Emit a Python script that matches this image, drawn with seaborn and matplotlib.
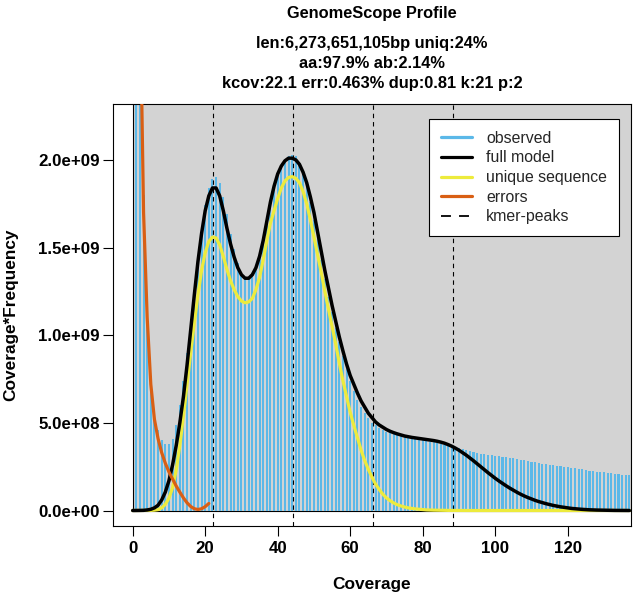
import numpy as np
import pandas as pd
import matplotlib
matplotlib.use("Agg")
import matplotlib.pyplot as plt
from matplotlib.patches import Rectangle
from matplotlib.lines import Line2D
import seaborn as sns

# ---------------- data (values in units of 1e8) ----------------
UNIT = 1e8
coverage = list(range(1, 138))
observed = [150, 40, 18, 11.5, 7.5, 5.6, 4.6, 4.0, 3.8, 3.8,
            4.1, 4.9, 6.0, 7.4, 9.0, 10.8, 12.6, 14.4, 16.0, 17.4,
            18.4, 18.9, 19.0, 18.7, 17.9, 16.9, 15.8, 14.9, 14.1, 13.6,
            13.3, 13.3, 13.5, 13.9, 14.5, 15.4, 16.5, 17.6, 18.5, 19.2,
            19.7, 20.0, 20.2, 20.3, 20.2, 19.8, 19.2, 18.5, 17.6, 16.6,
            15.5, 14.3, 13.2, 12.2, 11.3, 10.4, 9.6, 8.8, 8.1, 7.4,
            6.8, 6.3, 5.9, 5.55, 5.25, 5.0, 4.85, 4.7, 4.6, 4.5,
            4.42, 4.35, 4.3, 4.25, 4.2, 4.15, 4.1, 4.07, 4.03, 4.0,
            3.96, 3.92, 3.88, 3.84, 3.8, 3.76, 3.72, 3.68, 3.63, 3.57,
            3.5, 3.43, 3.37, 3.32, 3.28, 3.24, 3.21, 3.18, 3.15, 3.12,
            3.09, 3.06, 3.03, 3.0, 2.97, 2.94, 2.9, 2.87, 2.83, 2.79,
            2.75, 2.72, 2.68, 2.65, 2.62, 2.59, 2.55, 2.52, 2.49, 2.46,
            2.43, 2.4, 2.37, 2.34, 2.31, 2.28, 2.25, 2.22, 2.2, 2.17,
            2.14, 2.12, 2.09, 2.07, 2.05, 2.03, 2.01]

model_coverage = list(range(0, 138))
full_model = [0, 0, 0.005, 0.01, 0.03, 0.07, 0.15, 0.3, 0.6, 1.05,
              1.7, 2.6, 3.7, 5.0, 6.5, 8.3, 10.3, 12.3, 14.2, 15.8,
              17.1, 17.95, 18.4, 18.4, 17.95, 17.1, 16.1, 15.2, 14.45, 13.85,
              13.45, 13.25, 13.25, 13.45, 13.85, 14.5, 15.4, 16.5, 17.6, 18.5,
              19.2, 19.65, 19.95, 20.1, 20.1, 20.0, 19.75, 19.3, 18.7, 17.9,
              17.0, 15.9, 14.8, 13.7, 12.7, 11.7, 10.8, 9.9, 9.1, 8.35,
              7.7, 7.2, 6.7, 6.25, 5.9, 5.55, 5.3, 5.05, 4.88, 4.75,
              4.62, 4.52, 4.44, 4.37, 4.31, 4.25, 4.21, 4.17, 4.14, 4.11,
              4.08, 4.05, 4.02, 3.99, 3.95, 3.9, 3.84, 3.76, 3.67, 3.56,
              3.44, 3.3, 3.16, 3.0, 2.84, 2.67, 2.5, 2.33, 2.16, 2.0,
              1.84, 1.69, 1.55, 1.41, 1.28, 1.16, 1.04, 0.93, 0.83, 0.74,
              0.66, 0.58, 0.51, 0.45, 0.39, 0.34, 0.29, 0.25, 0.21, 0.18,
              0.15, 0.12, 0.1, 0.08, 0.065, 0.05, 0.04, 0.03, 0.025, 0.02,
              0.015, 0.01, 0.008, 0.006, 0.004, 0.003, 0.002, 0.001]
unique_sequence = [0, 0, 0, 0, 0, 0.005, 0.02, 0.05, 0.15, 0.35,
                   0.7, 1.3, 2.3, 3.7, 5.4, 7.2, 9.0, 10.7, 12.3, 13.7,
                   14.7, 15.35, 15.6, 15.55, 15.15, 14.5, 13.75, 13.1, 12.6, 12.2,
                   11.95, 11.85, 11.9, 12.1, 12.6, 13.3, 14.3, 15.4, 16.4, 17.1,
                   17.8, 18.4, 18.8, 19.0, 19.05, 18.95, 18.7, 18.2, 17.5, 16.6,
                   15.6, 14.6, 13.6, 12.5, 11.5, 10.5, 9.5, 8.4, 7.4, 6.5,
                   5.6, 4.85, 4.15, 3.45, 2.85, 2.35, 1.9, 1.5, 1.2, 0.93,
                   0.72, 0.56, 0.43, 0.33, 0.26, 0.2, 0.15, 0.12, 0.09, 0.07,
                   0.05, 0.035, 0.025, 0.02, 0.015, 0.01, 0.008, 0.006, 0.004, 0.003,
                   0.002, 0.001, 0, 0, 0, 0, 0, 0, 0, 0,
                   0, 0, 0, 0, 0, 0, 0, 0, 0, 0,
                   0, 0, 0, 0, 0, 0, 0, 0, 0, 0,
                   0, 0, 0, 0, 0, 0, 0, 0, 0, 0,
                   0, 0, 0, 0, 0, 0, 0, 0]
error_coverage = list(range(2, 22))
errors = [30, 17, 11, 7.2, 5.2, 4.1, 3.3, 2.7, 2.2, 1.8,
          1.4, 1.05, 0.72, 0.44, 0.23, 0.1, 0.06, 0.1, 0.22, 0.4]
kmer_peaks = [22.1, 44.2, 66.3, 88.4]

xticks = [0, 20, 40, 60, 80, 100, 120]
yticks = [0, 5e8, 1e9, 1.5e9, 2e9]
ytick_labels = ["0.0e+00", "5.0e+08", "1.0e+09", "1.5e+09", "2.0e+09"]
title_lines = ["GenomeScope Profile",
               "len:6,273,651,105bp uniq:24%",
               "aa:97.9% ab:2.14%",
               "kcov:22.1 err:0.463% dup:0.81 k:21 p:2"]
legend_labels = ["observed", "full model", "unique sequence", "errors", "kmer-peaks"]

C_HIST = "#5BB8E8"
C_FULL = "black"
C_UNIQ = "#EDEB3C"
C_ERR = "#D95F14"
C_BG = "#D3D3D3"

# ---------------- figure ----------------
sns.set_theme(style="white")
plt.rcParams["font.family"] = ["Liberation Sans", "DejaVu Sans"]

W, H = 633, 598
fig = plt.figure(figsize=(W / 100, H / 100), dpi=100)
ax_l, ax_r, ax_t, ax_b = 113, 631, 104, 526
ax = fig.add_axes([ax_l / W, 1 - ax_b / H, (ax_r - ax_l) / W, (ax_b - ax_t) / H])
ax.set_facecolor("white")

ax.add_patch(Rectangle((0, 0), 1000, 1e11, facecolor=C_BG, edgecolor="black",
                       linewidth=0.8, zorder=0.5))

obs_df = pd.DataFrame({"coverage": coverage,
                       "value": np.array(observed) * UNIT})
sns.histplot(data=obs_df, x="coverage", weights="value", discrete=True,
             shrink=0.58, color=C_HIST, alpha=1, linewidth=0, ax=ax, zorder=1)

for p in kmer_peaks:
    ax.axvline(p, color="black", linewidth=0.8, linestyle=(0, (4, 3.5)), zorder=2)

model_df = pd.DataFrame({"coverage": model_coverage,
                         "full": np.array(full_model) * UNIT,
                         "unique": np.array(unique_sequence) * UNIT})
err_df = pd.DataFrame({"coverage": error_coverage,
                       "errors": np.array(errors) * UNIT})

sns.lineplot(data=model_df, x="coverage", y="unique", color=C_UNIQ, linewidth=2.3,
             estimator=None, sort=False, ax=ax, zorder=3)
sns.lineplot(data=model_df, x="coverage", y="full", color=C_FULL, linewidth=2.5,
             estimator=None, sort=False, ax=ax, zorder=4)
sns.lineplot(data=err_df, x="coverage", y="errors", color=C_ERR, linewidth=2.3,
             estimator=None, sort=False, ax=ax, zorder=5)

ax.set_xlim(-5.43, 137.46)
ax.set_ylim(-0.884e8, 2.319e9)
ax.set_xticks(xticks)
ax.set_xticklabels([str(t) for t in xticks])
ax.set_yticks(yticks)
ax.set_yticklabels(ytick_labels)
ax.tick_params(axis="both", which="both", direction="out", length=7, width=0.8,
               color="black", labelcolor="black", labelsize=12.2,
               bottom=True, left=True, top=False, right=False)
ax.tick_params(axis="x", pad=4)
ax.tick_params(axis="y", pad=2.5)
for lbl in ax.get_xticklabels() + ax.get_yticklabels():
    lbl.set_fontweight("bold")
for s in ax.spines.values():
    s.set_visible(True)
    s.set_color("black")
    s.set_linewidth(0.8)

ax.set_xlabel("Coverage", fontsize=12.4, fontweight="bold", color="black")
ax.set_ylabel("Coverage*Frequency", fontsize=12.4, fontweight="bold", color="black")
ax.xaxis.set_label_coords(0.5, -(584 - ax_b) / (ax_b - ax_t))
ax.xaxis.label.set_va("center")
ax.yaxis.set_label_coords((11 - ax_l) / (ax_r - ax_l), 0.5)
ax.yaxis.label.set_va("center")
ax.yaxis.label.set_ha("center")

cx = (ax_l + ax_r) / 2 / W
for txt, yb in zip(title_lines, [18, 48, 68, 88]):
    fig.text(cx, 1 - yb / H, txt, ha="center", va="baseline",
             fontsize=11.8, fontweight="bold", color="black")

handles = [Line2D([], [], color=C_HIST, linewidth=2.3),
           Line2D([], [], color=C_FULL, linewidth=2.3),
           Line2D([], [], color=C_UNIQ, linewidth=2.3),
           Line2D([], [], color=C_ERR, linewidth=2.3),
           Line2D([], [], color="black", linewidth=1.3, linestyle=(0, (5.5, 4.5)))]
leg = ax.legend(handles, legend_labels, loc="upper left",
                bbox_to_anchor=((429 - ax_l) / (ax_r - ax_l), 1 - (119 - ax_t) / (ax_b - ax_t)),
                fontsize=11.4, frameon=True, fancybox=False, framealpha=1,
                edgecolor="black", borderpad=0.75, labelspacing=0.29,
                handlelength=1.96, handletextpad=0.89, borderaxespad=0)
leg.get_frame().set_linewidth(0.8)
leg.set_zorder(10)

fig.savefig("out.png", dpi=100)
